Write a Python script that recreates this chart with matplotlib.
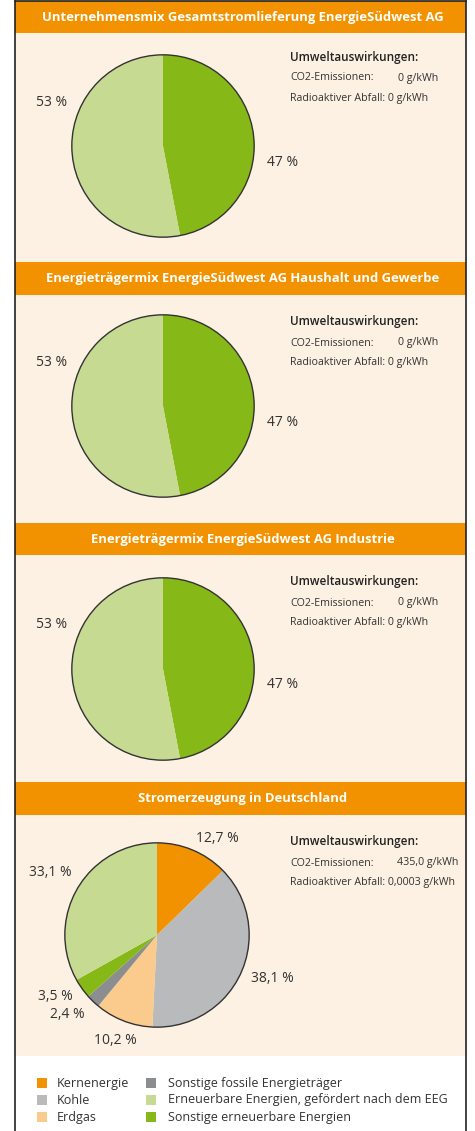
import matplotlib.pyplot as plt
from matplotlib.patches import Rectangle, Circle

W, H = 475, 1131

# data
titles = [
    "Unternehmensmix Gesamtstromlieferung EnergieSüdwest AG",
    "Energieträgermix EnergieSüdwest AG Haushalt und Gewerbe",
    "Energieträgermix EnergieSüdwest AG Industrie",
    "Stromerzeugung in Deutschland",
]
mix_labels = ["Sonstige erneuerbare Energien", "Erneuerbare Energien, gefördert nach dem EEG"]
mix_values = [47, 53]
mix_text = ["47 %", "53 %"]

de_labels = ["Kernenergie", "Kohle", "Erdgas", "Sonstige fossile Energieträger",
             "Sonstige erneuerbare Energien", "Erneuerbare Energien, gefördert nach dem EEG"]
de_values = [12.7, 38.1, 10.2, 2.4, 3.5, 33.1]
de_text = ["12,7 %", "38,1 %", "10,2 %", "2,4 %", "3,5 %", "33,1 %"]

co2 = ["0 g/kWh", "0 g/kWh", "0 g/kWh", "435,0 g/kWh"]
radio = ["0 g/kWh", "0 g/kWh", "0 g/kWh", "0,0003 g/kWh"]

legend_order = ["Kernenergie", "Kohle", "Erdgas", "Sonstige fossile Energieträger",
                "Erneuerbare Energien, gefördert nach dem EEG", "Sonstige erneuerbare Energien"]

colors = {
    "Kernenergie": "#f39200",
    "Kohle": "#b9babc",
    "Erdgas": "#fbcb8d",
    "Sonstige fossile Energieträger": "#8c8d8f",
    "Erneuerbare Energien, gefördert nach dem EEG": "#c6da91",
    "Sonstige erneuerbare Energien": "#86b817",
}
orange = "#f39200"
cream = "#fdf1e3"
txt = "#333333"

plt.rcParams['font.family'] = ['Open Sans', 'DejaVu Sans']

fig = plt.figure(figsize=(W / 100, H / 100), dpi=100)
fig.patch.set_facecolor("white")


def fx(x):
    return x / W


def fy(y):
    return 1 - y / H


def rect(x0, y0, x1, y1, color, z=-5):
    fig.patches.append(Rectangle((fx(x0), fy(y1)), fx(x1) - fx(x0), fy(y0) - fy(y1),
                                 transform=fig.transFigure, color=color, lw=0, zorder=z))


# panel layout (header top, header bottom, panel bottom)
panels = [(1, 33, 262), (262, 295, 523), (523, 555, 782), (782, 815, 1056)]
L, R = 15, 466
for (t, hb, pb), title in zip(panels, titles):
    rect(L, t, R, hb, orange)
    rect(L, hb, R, pb, cream)
    fig.text(fx((L + R) / 2 + 2), fy((t + hb) / 2), title, color="white", fontsize=9.4,
             fontweight="bold", ha="center", va="center")

# frame
for xs, ys in [([L, L], [1, H]), ([R, R], [1, H]), ([L, R], [1, 1])]:
    fig.lines.append(plt.Line2D([fx(v) for v in xs], [fy(v) for v in ys],
                                transform=fig.transFigure, color="#222222", lw=1.2))


def draw_pie(cx, cy, r, values, labels):
    ax = fig.add_axes([fx(cx - r), fy(cy + r), (2 * r) / W, (2 * r) / H])
    ax.set_zorder(2)
    ax.patch.set_visible(False)
    ax.pie(values, colors=[colors[l] for l in labels], startangle=90, counterclock=False,
           radius=1, wedgeprops=dict(linewidth=0))
    ax.add_patch(Circle((0, 0), 1, fill=False, edgecolor="#333333", lw=1.0))
    ax.set_xlim(-1.02, 1.02)
    ax.set_ylim(-1.02, 1.02)
    ax.set_aspect("equal")
    ax.axis("off")


def env_text(y, c, rd):
    fig.text(fx(290), fy(y), "Umweltauswirkungen:", fontsize=8.5, color="#222222", va="center", fontweight="semibold")
    fig.text(fx(290), fy(y + 21), "CO2-Emissionen:", fontsize=7.7, color=txt, va="center")
    fig.text(fx(438 if len(c) < 9 else 458), fy(y + 21), c, fontsize=7.7, color=txt, va="center", ha="right")
    fig.text(fx(290), fy(y + 41), "Radioaktiver Abfall: " + rd, fontsize=7.7, color=txt, va="center")


pie_centers = [(163, 146), (163, 406), (163, 669)]
text_tops = [57, 322, 582]
for (cx, cy), ty in zip(pie_centers, text_tops):
    draw_pie(cx, cy, 93, mix_values, mix_labels)
    fig.text(fx(cx + 120), fy(cy + 16), mix_text[0], fontsize=10, color=txt, va="center", ha="center")
    fig.text(fx(cx - 111), fy(cy - 44), mix_text[1], fontsize=10, color=txt, va="center", ha="center")
for i, ty in enumerate(text_tops):
    env_text(ty, co2[i], radio[i])

# Deutschland pie
draw_pie(157, 935, 94, de_values, de_labels)
env_text(842, co2[3], radio[3])
de_pos = [(217, 838), (272, 979), (115, 1040), (67, 1015), (55, 997), (50, 872)]
for (x, y), t in zip(de_pos, de_text):
    fig.text(fx(x), fy(y), t, fontsize=10, color=txt, va="center", ha="center")

# legend
for i, lab in enumerate(legend_order):
    col, row = divmod(i, 3)
    sx = 37 if col == 0 else 146
    sy = 1083 + row * 17
    rect(sx, sy - 5, sx + 10, sy + 5, colors[lab])
    fig.text(fx(57 if col == 0 else 168), fy(sy), lab, fontsize=9, color=txt, va="center")

fig.savefig("out.png", dpi=100, facecolor="white")
